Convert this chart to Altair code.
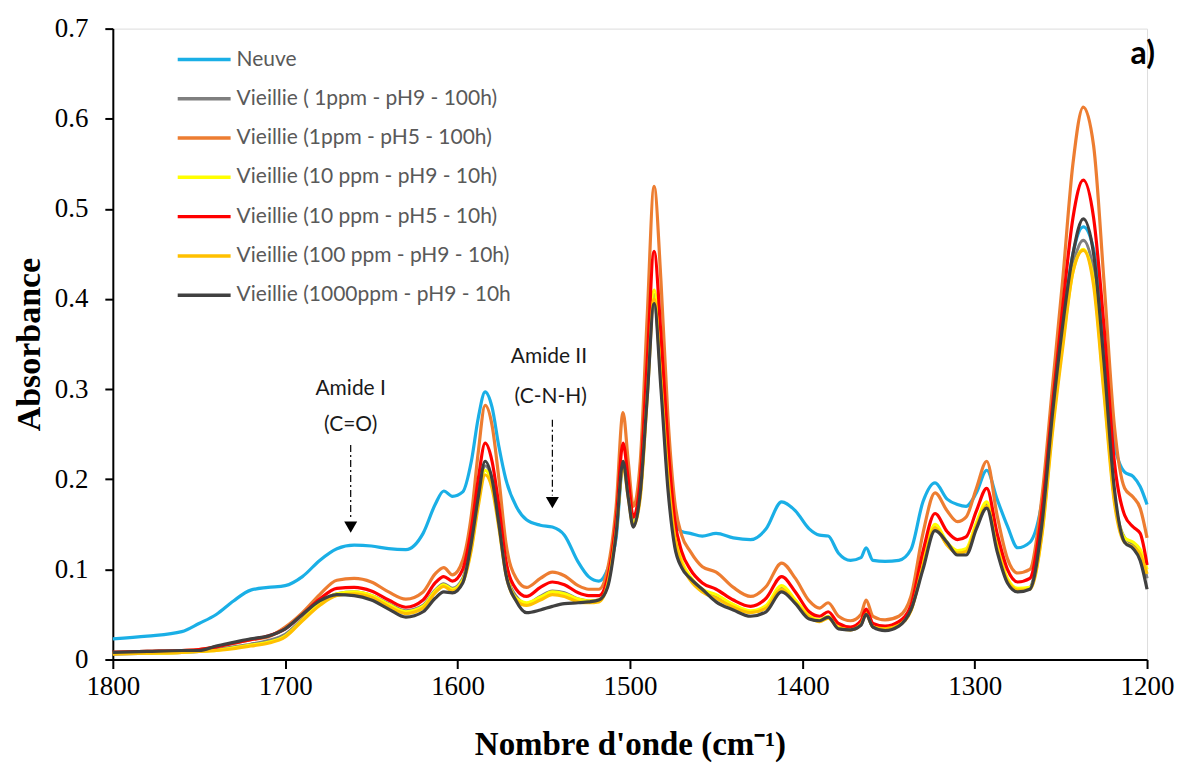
import altair as alt
import pandas as pd

# ---------------- data ----------------
wavenumber = [
    1800, 1780, 1760, 1750, 1740, 1730, 1720, 1710, 1700,
    1690, 1680, 1670, 1660, 1650, 1640, 1630, 1620,
    1613, 1608, 1603, 1597, 1592, 1588, 1584, 1580, 1576, 1572, 1566,
    1560, 1552, 1545, 1538, 1530, 1524, 1518, 1513, 1508, 1504, 1501,
    1498, 1494, 1490, 1486, 1482, 1478, 1474, 1470, 1465, 1458,
    1450, 1440, 1430, 1421, 1412, 1404, 1396, 1390, 1385, 1379, 1372, 1366, 1363, 1359,
    1352, 1344, 1337, 1330, 1323, 1316, 1310, 1305, 1299, 1293, 1287, 1281,
    1275, 1268, 1261, 1255, 1249, 1243, 1237, 1231, 1225, 1219, 1213, 1208, 1204, 1200,
]

neuve = [
    0.023, 0.026, 0.031, 0.040, 0.050, 0.065, 0.077, 0.080, 0.082,
    0.092, 0.110, 0.123, 0.127, 0.126, 0.123, 0.122, 0.140,
    0.172, 0.187, 0.181, 0.186, 0.220, 0.268, 0.297, 0.280, 0.236, 0.200, 0.170,
    0.155, 0.149, 0.147, 0.138, 0.108, 0.092, 0.087, 0.100, 0.135, 0.215, 0.190,
    0.150, 0.200, 0.320, 0.395, 0.320, 0.200, 0.155, 0.142, 0.140, 0.137,
    0.140, 0.135, 0.133, 0.145, 0.175, 0.165, 0.145, 0.138, 0.137, 0.118, 0.110, 0.113, 0.124, 0.110,
    0.109, 0.110, 0.122, 0.175, 0.196, 0.178, 0.172, 0.170, 0.185, 0.210, 0.178, 0.148,
    0.124, 0.130, 0.175, 0.270, 0.370, 0.450, 0.480, 0.455, 0.360, 0.240, 0.208, 0.203, 0.192, 0.172,
]

v_1ppm_ph9 = [
    0.006, 0.007, 0.008, 0.009, 0.011, 0.014, 0.017, 0.021, 0.028,
    0.045, 0.063, 0.073, 0.075, 0.071, 0.062, 0.054, 0.060,
    0.077, 0.084, 0.079, 0.090, 0.130, 0.180, 0.215, 0.200, 0.155, 0.100, 0.070,
    0.062, 0.070, 0.076, 0.074, 0.067, 0.065, 0.066, 0.085, 0.145, 0.220, 0.185,
    0.150, 0.185, 0.300, 0.405, 0.320, 0.210, 0.140, 0.108, 0.090, 0.077,
    0.070, 0.060, 0.053, 0.058, 0.080, 0.065, 0.048, 0.043, 0.047, 0.035, 0.033, 0.039, 0.051, 0.036,
    0.034, 0.038, 0.055, 0.105, 0.146, 0.128, 0.118, 0.120, 0.150, 0.173, 0.125, 0.088,
    0.077, 0.080, 0.150, 0.260, 0.355, 0.435, 0.465, 0.430, 0.310, 0.180, 0.135, 0.128, 0.118, 0.090,
]

v_1ppm_ph5 = [
    0.008, 0.009, 0.010, 0.011, 0.014, 0.018, 0.022, 0.025, 0.036,
    0.052, 0.072, 0.088, 0.090, 0.086, 0.075, 0.067, 0.075,
    0.095, 0.102, 0.094, 0.110, 0.160, 0.230, 0.282, 0.260, 0.200, 0.130, 0.090,
    0.080, 0.090, 0.097, 0.093, 0.082, 0.078, 0.078, 0.100, 0.170, 0.274, 0.220,
    0.170, 0.220, 0.380, 0.525, 0.420, 0.270, 0.175, 0.138, 0.120, 0.103,
    0.097, 0.080, 0.070, 0.081, 0.107, 0.090, 0.065, 0.057, 0.063, 0.048, 0.043, 0.050, 0.066, 0.048,
    0.044, 0.048, 0.070, 0.140, 0.185, 0.165, 0.153, 0.158, 0.190, 0.220, 0.160, 0.112,
    0.096, 0.100, 0.180, 0.300, 0.420, 0.550, 0.613, 0.570, 0.420, 0.260, 0.190, 0.180, 0.168, 0.135,
]

v_10ppm_ph9 = [
    0.007, 0.007, 0.008, 0.009, 0.010, 0.013, 0.016, 0.019, 0.026,
    0.044, 0.062, 0.073, 0.075, 0.071, 0.061, 0.053, 0.059,
    0.076, 0.083, 0.078, 0.088, 0.125, 0.175, 0.210, 0.195, 0.150, 0.098, 0.068,
    0.063, 0.069, 0.075, 0.073, 0.067, 0.065, 0.066, 0.085, 0.145, 0.220, 0.185,
    0.150, 0.185, 0.300, 0.410, 0.320, 0.210, 0.140, 0.110, 0.092, 0.078,
    0.072, 0.061, 0.054, 0.060, 0.082, 0.066, 0.049, 0.044, 0.048, 0.036, 0.034, 0.040, 0.052, 0.037,
    0.035, 0.039, 0.056, 0.108, 0.150, 0.130, 0.121, 0.123, 0.152, 0.175, 0.127, 0.090,
    0.079, 0.080, 0.140, 0.255, 0.350, 0.430, 0.455, 0.420, 0.300, 0.180, 0.135, 0.130, 0.122, 0.100,
]

v_10ppm_ph5 = [
    0.008, 0.009, 0.010, 0.011, 0.014, 0.018, 0.022, 0.026, 0.034,
    0.050, 0.067, 0.079, 0.080, 0.076, 0.066, 0.058, 0.066,
    0.085, 0.092, 0.087, 0.100, 0.145, 0.200, 0.240, 0.220, 0.170, 0.110, 0.078,
    0.070, 0.080, 0.086, 0.083, 0.074, 0.071, 0.071, 0.090, 0.155, 0.240, 0.200,
    0.158, 0.200, 0.330, 0.453, 0.360, 0.240, 0.155, 0.120, 0.100, 0.085,
    0.078, 0.066, 0.059, 0.068, 0.092, 0.075, 0.053, 0.048, 0.053, 0.040, 0.036, 0.043, 0.056, 0.040,
    0.037, 0.042, 0.060, 0.120, 0.162, 0.142, 0.133, 0.136, 0.165, 0.190, 0.140, 0.100,
    0.086, 0.090, 0.165, 0.280, 0.390, 0.490, 0.532, 0.490, 0.370, 0.220, 0.160, 0.147, 0.140, 0.105,
]

v_100ppm_ph9 = [
    0.006, 0.007, 0.008, 0.009, 0.010, 0.012, 0.015, 0.018, 0.025,
    0.043, 0.060, 0.071, 0.073, 0.069, 0.059, 0.051, 0.057,
    0.074, 0.081, 0.076, 0.086, 0.122, 0.170, 0.205, 0.190, 0.146, 0.095, 0.066,
    0.060, 0.066, 0.072, 0.070, 0.064, 0.063, 0.064, 0.083, 0.142, 0.215, 0.180,
    0.148, 0.180, 0.290, 0.400, 0.310, 0.205, 0.136, 0.106, 0.088, 0.075,
    0.068, 0.058, 0.052, 0.057, 0.078, 0.063, 0.047, 0.042, 0.046, 0.035, 0.033, 0.039, 0.050, 0.036,
    0.034, 0.038, 0.054, 0.104, 0.146, 0.127, 0.118, 0.120, 0.148, 0.170, 0.124, 0.087,
    0.077, 0.078, 0.138, 0.250, 0.345, 0.430, 0.454, 0.415, 0.295, 0.175, 0.130, 0.125, 0.117, 0.095,
]

v_1000ppm_ph9 = [
    0.008, 0.009, 0.010, 0.010, 0.015, 0.019, 0.023, 0.026, 0.034,
    0.050, 0.065, 0.072, 0.071, 0.066, 0.056, 0.047, 0.053,
    0.068, 0.075, 0.074, 0.085, 0.130, 0.180, 0.220, 0.200, 0.150, 0.095, 0.065,
    0.052, 0.055, 0.059, 0.062, 0.063, 0.064, 0.066, 0.080, 0.140, 0.220, 0.180,
    0.147, 0.185, 0.290, 0.395, 0.300, 0.190, 0.125, 0.102, 0.090, 0.078,
    0.064, 0.055, 0.048, 0.053, 0.075, 0.062, 0.045, 0.043, 0.047, 0.034, 0.033, 0.038, 0.050, 0.036,
    0.032, 0.037, 0.055, 0.100, 0.143, 0.130, 0.116, 0.116, 0.145, 0.168, 0.120, 0.085,
    0.075, 0.078, 0.150, 0.270, 0.370, 0.450, 0.489, 0.450, 0.330, 0.190, 0.130, 0.123, 0.110, 0.078,
]

series_names = [
    "Neuve",
    "Vieillie ( 1ppm - pH9 - 100h)",
    "Vieillie (1ppm - pH5 - 100h)",
    "Vieillie (10 ppm - pH9 - 10h)",
    "Vieillie (10 ppm - pH5 - 10h)",
    "Vieillie (100 ppm - pH9 - 10h)",
    "Vieillie (1000ppm - pH9 - 10h",
]
series_values = [neuve, v_1ppm_ph9, v_1ppm_ph5, v_10ppm_ph9, v_10ppm_ph5,
                 v_100ppm_ph9, v_1000ppm_ph9]
series_colors = ["#1AAFE6", "#7F7F7F", "#ED7D31", "#FFFF00", "#FF0000",
                 "#FFC000", "#404040"]

x_ticks = [1800, 1700, 1600, 1500, 1400, 1300, 1200]
y_ticks = [0, 0.1, 0.2, 0.3, 0.4, 0.5, 0.6, 0.7]

annot_text = ["Amide I", "(C=O)", "Amide II", "(C-N-H)"]
annot_wn = [1662, 1662, 1547, 1546]
annot_abs = [0.300, 0.260, 0.336, 0.291]

arrow_wn = [1662, 1545]
arrow_top = [0.238, 0.266]
arrow_bottom = [0.155, 0.182]
arrow_tip = [0.147, 0.174]

# ---------------- tables ----------------
rows = []
for order, (name, vals) in enumerate(zip(series_names, series_values)):
    for w, v in zip(wavenumber, vals):
        rows.append({"serie": name, "order": order, "wn": w, "abs": v})
df = pd.DataFrame(rows)

legend_df = pd.DataFrame({"serie": series_names, "order": list(range(len(series_names)))})
annot_df = pd.DataFrame({"wn": annot_wn, "abs": annot_abs, "txt": annot_text})
arrow_df = pd.DataFrame({"wn": arrow_wn, "top": arrow_top, "bottom": arrow_bottom, "tip": arrow_tip})

color_scale = alt.Scale(domain=series_names, range=series_colors)
x_scale = alt.Scale(domain=[1200, 1800], reverse=True, nice=False, zero=False)
y_scale = alt.Scale(domain=[0, 0.7], nice=False)

serif = "Liberation Serif"
sans = "Lato"

x_axis = alt.Axis(
    values=x_ticks, format="d", title="Nombre d'onde (cm\u207b\u00b9)",
    grid=False, domainColor="black", domainWidth=2, tickColor="black",
    tickWidth=2, tickSize=9, labelFont=serif, labelFontSize=27,
    labelColor="black", labelPadding=5, titleFont=serif, titleFontSize=33,
    titleFontWeight="bold", titleColor="black", titlePadding=29,
    labelFlush=False,
)
x_enc = alt.X("wn:Q", scale=x_scale, axis=x_axis)

y_enc = alt.Y(
    "abs:Q", scale=y_scale,
    axis=alt.Axis(
        values=y_ticks, title="Absorbance",
        labelExpr="datum.value == 0 ? '0' : format(datum.value, '.1f')",
        grid=False, domainColor="black", domainWidth=2, tickColor="black",
        tickWidth=2, tickSize=8, labelFont=serif, labelFontSize=27,
        labelColor="black", labelPadding=17, titleFont=serif, titleFontSize=34,
        titleFontWeight="bold", titleColor="black", titlePadding=8,
        labelFlush=False,
    ),
)

lines = alt.Chart(df).mark_line(strokeWidth=3.2, interpolate="monotone").encode(
    x=x_enc,
    y=y_enc,
    color=alt.Color("serie:N", scale=color_scale, legend=None),
    detail="serie:N",
    order=alt.Order("order:Q"),
)

annots = alt.Chart(annot_df).mark_text(
    font=sans, fontSize=21, color="#1a1a1a", align="center", baseline="middle"
).encode(x=x_enc, y=alt.Y("abs:Q", scale=y_scale, axis=None), text="txt:N")

arrow_lines = alt.Chart(arrow_df).mark_rule(
    color="black", strokeWidth=1.2, strokeDash=[7, 3, 2, 3]
).encode(x=x_enc, y=alt.Y("top:Q", scale=y_scale, axis=None), y2="bottom:Q")

arrow_heads = alt.Chart(arrow_df).mark_point(
    shape="triangle-down", filled=True, color="black", size=170, opacity=1
).encode(x=x_enc, y=alt.Y("tip:Q", scale=y_scale, axis=None))

leg_y = alt.Y("serie:N", sort=series_names,
              scale=alt.Scale(type="point", range=[31, 267], padding=0), axis=None)

legend_lines = alt.Chart(legend_df).mark_rule(strokeWidth=3.5).encode(
    x=alt.value(65), x2=alt.value(118), y=leg_y,
    color=alt.Color("serie:N", scale=color_scale, legend=None),
)
legend_text = alt.Chart(legend_df).mark_text(
    font=sans, fontSize=21, color="#595959", align="left", baseline="middle"
).encode(x=alt.value(124), y=leg_y, text="serie:N")

panel_label = alt.Chart(legend_df.head(1)).mark_text(
    font=sans, fontSize=32, fontWeight="bold", color="black", align="right",
    baseline="middle", text="a)"
).encode(x=alt.value(1044), y=alt.value(25))

chart = alt.layer(
    lines, annots, arrow_lines, arrow_heads, legend_lines, legend_text, panel_label
).resolve_scale(y="independent").properties(
    width=1036, height=632,
    autosize=alt.AutoSizeParams(type="none"),
    padding={"left": 105, "top": 20, "right": 30, "bottom": 106},
).configure_view(stroke=None).configure(background="white")

chart.save("out.html", embed_options={"renderer": "svg", "actions": False})
